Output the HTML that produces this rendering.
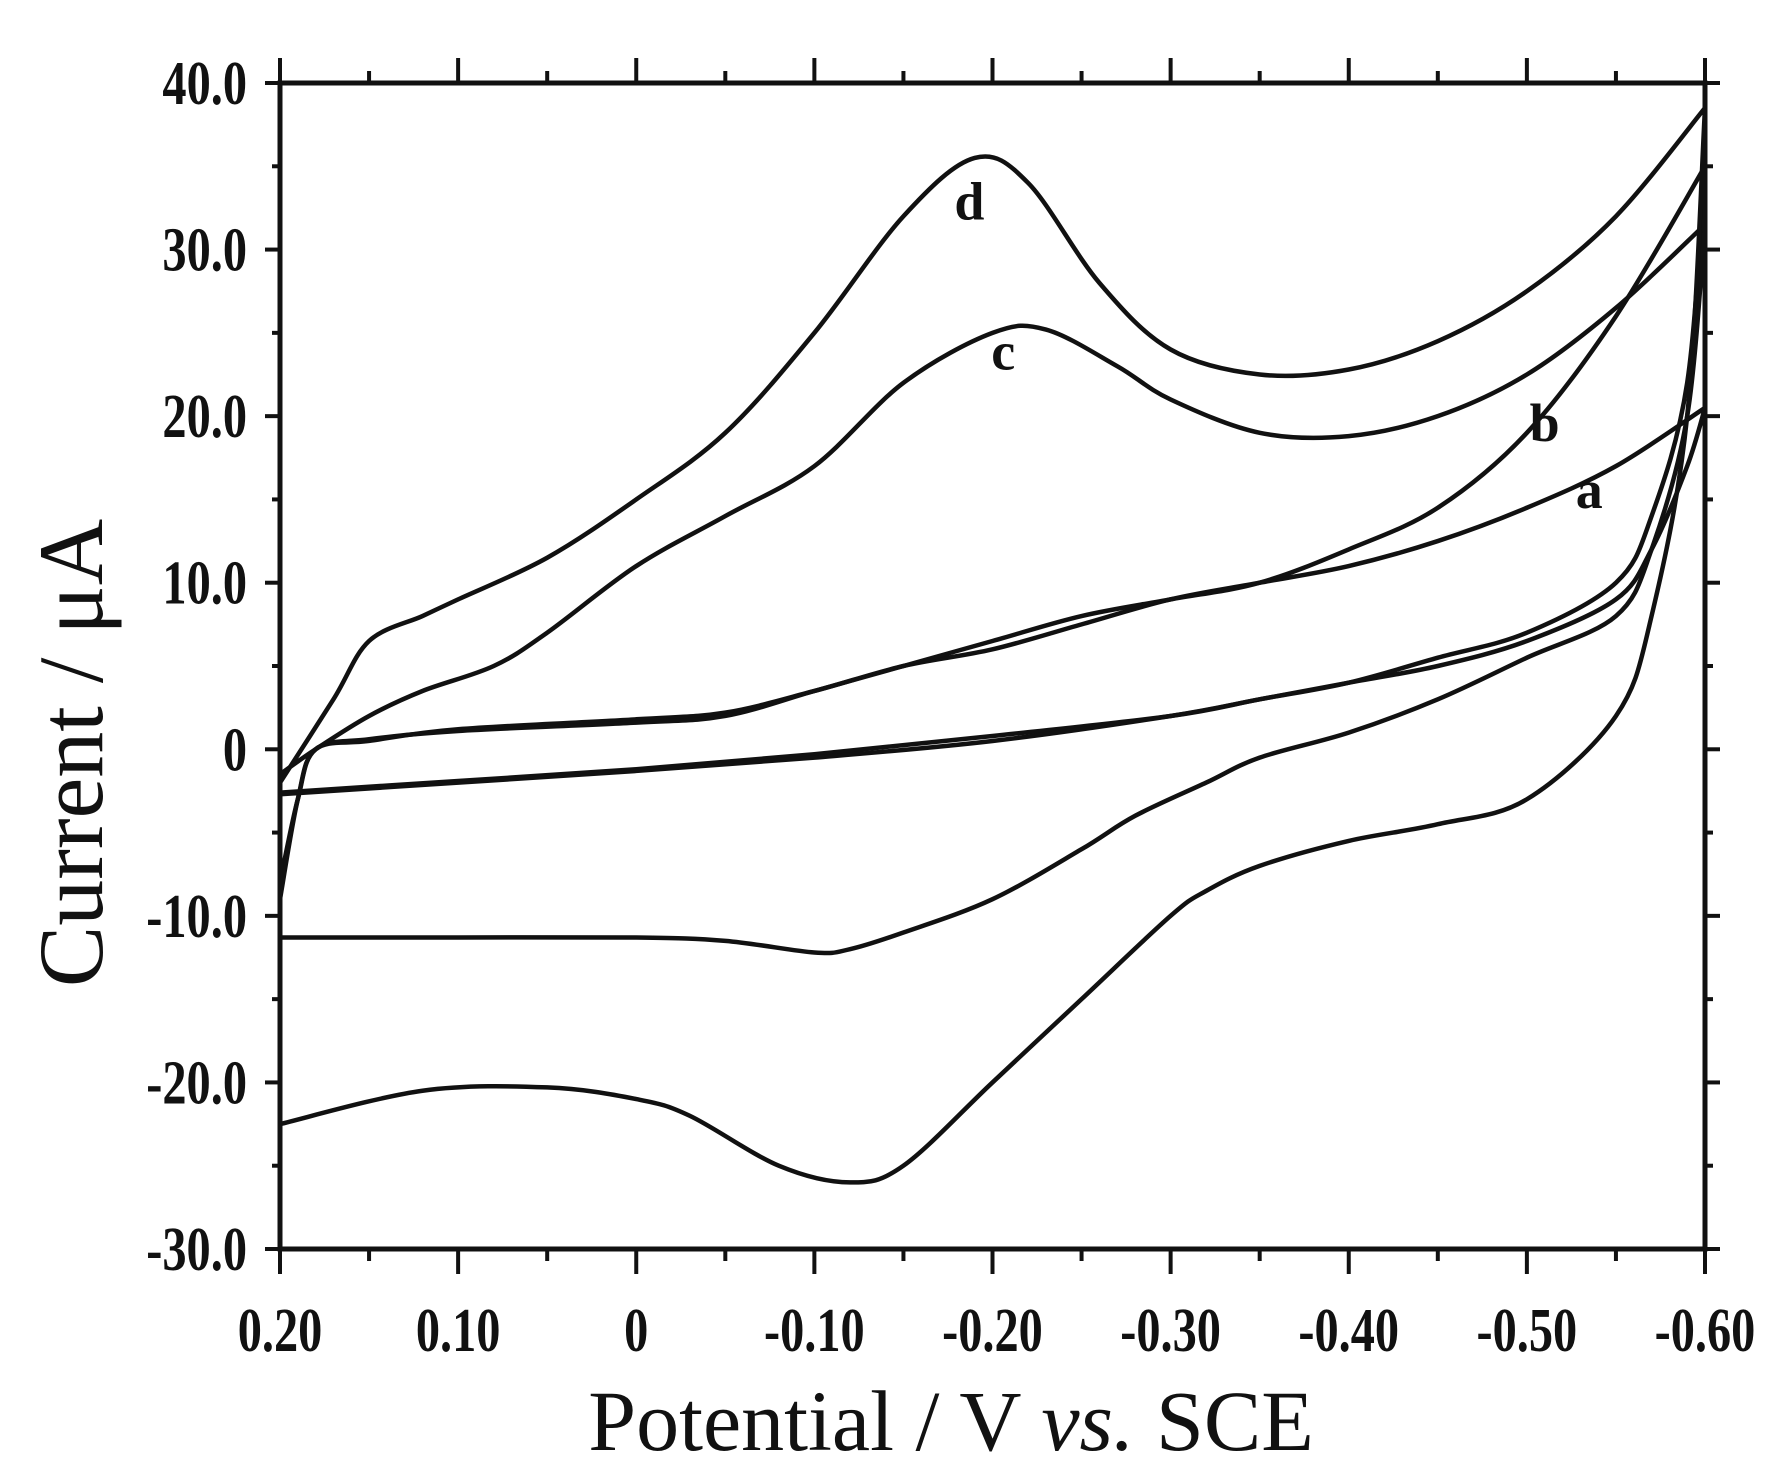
<!DOCTYPE html>
<html><head><meta charset="utf-8"><style>
html,body{margin:0;padding:0;background:#fff}
svg{display:block}
</style></head><body>
<svg id="chart" width="1779" height="1484" xmlns="http://www.w3.org/2000/svg"></svg>
<script>
const xTicks=[0.2,0.1,0,-0.1,-0.2,-0.3,-0.4,-0.5,-0.6];
const xTickLabels=["0.20","0.10","0","-0.10","-0.20","-0.30","-0.40","-0.50","-0.60"];
const yTicks=[40,30,20,10,0,-10,-20,-30];
const yTickLabels=["40.0","30.0","20.0","10.0","0","-10.0","-20.0","-30.0"];
const seriesNames=["a","b","c","d"];
const aE=[0.2,0.19,0.18,0.15,0.1,0,-0.05,-0.1,-0.15,-0.2,-0.25,-0.3,-0.35,-0.4,-0.45,-0.5,-0.55,-0.6,-0.59,-0.57,-0.55,-0.5,-0.45,-0.4,-0.35,-0.3,-0.2,-0.1,0,0.1,0.2];
const aI=[-8,-3,0,0.5,1.2,1.8,2.2,3.5,5,6,7.5,9,10,11,12.5,14.5,17,20.5,17,12,9,6.5,5,4,3,2,0.8,-0.3,-1.2,-1.9,-2.6];
const bE=[0.2,0.19,0.18,0.15,0.1,0,-0.05,-0.1,-0.15,-0.2,-0.25,-0.3,-0.35,-0.4,-0.45,-0.5,-0.55,-0.6,-0.59,-0.57,-0.55,-0.5,-0.45,-0.4,-0.35,-0.3,-0.2,-0.1,0,0.1,0.2];
const bI=[-9,-3,0,0.6,1.1,1.6,2,3.5,5,6.5,8,9,10,12,14.5,19,26,35,22,14,10,7,5.5,4,3,2,0.5,-0.5,-1.3,-2,-2.7];
const cE=[0.2,0.18,0.15,0.12,0.08,0.05,0,-0.05,-0.1,-0.15,-0.2,-0.23,-0.27,-0.3,-0.35,-0.4,-0.45,-0.5,-0.55,-0.6,-0.59,-0.57,-0.55,-0.5,-0.45,-0.4,-0.35,-0.32,-0.28,-0.25,-0.2,-0.15,-0.12,-0.1,-0.05,0,0.1,0.2];
const cI=[-1.5,0,2,3.5,5,7,11,14,17,22,25,25.2,23,21,19,18.8,20,22.5,26.5,31.5,20,12,8,5.5,3,1,-0.5,-2,-4,-6,-9,-11,-12,-12.2,-11.5,-11.3,-11.3,-11.3];
const dE=[0.2,0.17,0.15,0.12,0.1,0.05,0,-0.05,-0.1,-0.15,-0.19,-0.22,-0.26,-0.3,-0.35,-0.4,-0.45,-0.5,-0.55,-0.6,-0.59,-0.57,-0.55,-0.5,-0.45,-0.4,-0.35,-0.32,-0.3,-0.25,-0.2,-0.15,-0.12,-0.08,-0.03,0,0.05,0.12,0.2];
const dI=[-2,3,6.5,8,9,11.5,15,19,25,32,35.5,34,28,24,22.5,22.8,24.5,27.5,32,38.5,20,8,2,-3,-4.5,-5.5,-7,-8.5,-10,-15,-20,-25,-26,-25,-22,-21,-20.3,-20.5,-22.5];
const labelE=[-0.535,-0.51,-0.206,-0.187];
const labelI=[14.5,18.5,22.8,31.8];

const L=280,R=1705,T=83,B=1249;
const xMin=0.2,xMax=-0.6,yMin=-30,yMax=40;
const sx=v=>L+(v-xMin)/(xMax-xMin)*(R-L);
const sy=v=>B-(v-yMin)/(yMax-yMin)*(B-T);
const NS="http://www.w3.org/2000/svg";
const svg=document.getElementById('chart');
function mk(tag,attrs,parent){const e=document.createElementNS(NS,tag);for(const k in attrs)e.setAttribute(k,attrs[k]);(parent||svg).appendChild(e);return e;}

const defs=mk('defs',{});
const cp=mk('clipPath',{id:'plotclip'},defs);
mk('rect',{x:L,y:T,width:R-L,height:B-T},cp);

function smooth(p,start){
  let d=(start?'M':'L')+p[0][0]+','+p[0][1];
  for(let i=0;i<p.length-1;i++){
    const p0=p[i-1]||p[i],p1=p[i],p2=p[i+1],p3=p[i+2]||p2;
    const c1=[p1[0]+(p2[0]-p0[0])/6,p1[1]+(p2[1]-p0[1])/6];
    const c2=[p2[0]-(p3[0]-p1[0])/6,p2[1]-(p3[1]-p1[1])/6];
    d+=' C'+c1[0]+','+c1[1]+' '+c2[0]+','+c2[1]+' '+p2[0]+','+p2[1];
  }
  return d;
}
function pathFrom(E,I){
  const p=E.map((e,i)=>[sx(e),sy(I[i])]);
  let k=0;for(let i=1;i<E.length;i++)if(E[i]<E[k])k=i;
  return smooth(p.slice(0,k+1),true)+' '+smooth(p.slice(k),false);
}
const gS=mk('g',{'clip-path':'url(#plotclip)'});


const allE=[aE,bE,cE,dE],allI=[aI,bI,cI,dI];
for(let k=0;k<4;k++){
  const p=mk('path',{d:pathFrom(allE[k],allI[k]),fill:'none',stroke:'#111','stroke-width':4.5,'stroke-linejoin':'round'},gS);
  
  
}
for(let k=0;k<4;k++){
  const t=mk('text',{x:sx(labelE[k]),y:sy(labelI[k]),'text-anchor':'middle','font-family':'Liberation Serif, serif','font-weight':'bold','font-size':54,fill:'#111'});
  t.textContent=seriesNames[k];
  
  
}

const fr=mk('rect',{x:L,y:T,width:R-L,height:B-T,fill:'none',stroke:'#111','stroke-width':5});



const gT=mk('g',{stroke:'#111','stroke-width':4});


for(let i=0;i<xTicks.length;i++){
  const x=sx(xTicks[i]);
  mk('line',{x1:x,y1:B,x2:x,y2:B+25},gT);
  mk('line',{x1:x,y1:T,x2:x,y2:T-25},gT);
  if(i<xTicks.length-1){const xm=sx((xTicks[i]+xTicks[i+1])/2);
    mk('line',{x1:xm,y1:B,x2:xm,y2:B+12},gT);mk('line',{x1:xm,y1:T,x2:xm,y2:T-12},gT);}
  const t=mk('text',{x:x,y:B+102,'text-anchor':'middle','font-family':'Liberation Serif, serif','font-weight':'bold','font-size':62,fill:'#111',transform:`translate(${x},0) scale(0.78,1) translate(${-x},0)`});
  t.textContent=xTickLabels[i];
  
  
}
for(let i=0;i<yTicks.length;i++){
  const y=sy(yTicks[i]);
  mk('line',{x1:L,y1:y,x2:L-15,y2:y},gT);
  mk('line',{x1:R,y1:y,x2:R+15,y2:y},gT);
  if(i<yTicks.length-1){const ym=sy((yTicks[i]+yTicks[i+1])/2);
    mk('line',{x1:L,y1:ym,x2:L-8,y2:ym},gT);mk('line',{x1:R,y1:ym,x2:R+8,y2:ym},gT);}
  const tx=247;
  const t=mk('text',{x:tx,y:y+21,'text-anchor':'end','font-family':'Liberation Serif, serif','font-weight':'bold','font-size':62,fill:'#111',transform:`translate(${tx},0) scale(0.78,1) translate(${-tx},0)`});
  t.textContent=yTickLabels[i];
  
  
}

const xt=mk('text',{x:951,y:1450,'text-anchor':'middle','font-family':'Liberation Serif, serif','font-size':86,fill:'#111'});
xt.innerHTML='Potential / V <tspan font-style="italic">vs.</tspan> SCE';


const yt=mk('text',{x:0,y:0,'text-anchor':'middle','font-family':'Liberation Serif, serif','font-size':92,fill:'#111',transform:'translate(102,753) rotate(-90)'});
yt.textContent='Current / μA';


</script>
</body></html>
